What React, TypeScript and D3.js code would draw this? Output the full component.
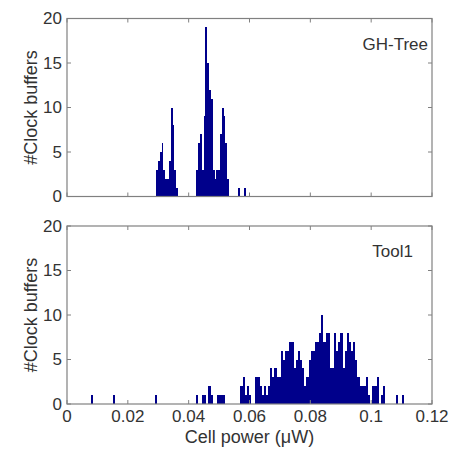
import React from "react";
import * as d3 from "d3";

// ---------- data ----------
const xTicks = [0, 0.02, 0.04, 0.06, 0.08, 0.1, 0.12];
const xTickLabels = ["0", "0.02", "0.04", "0.06", "0.08", "0.1", "0.12"];
const yTicks = [0, 5, 10, 15, 20];
const yTickLabels = ["0", "5", "10", "15", "20"];

const ghTreeLabel = "GH-Tree";
const ghTreeStart = 0.0293;
const ghTreeBinWidth = 0.0006;
const ghTreeCounts = [
  3, 4, 5, 6, 3, 2, 2, 4, 10, 8, 3, 1,
  0, 0, 0, 0, 0, 0, 0, 0, 0, 0,
  3, 6, 7, 3, 9, 19, 15, 12, 11, 3, 2, 3, 3, 7, 10, 9, 6, 2,
  0, 0, 0, 0, 0, 1, 0, 0, 1,
];

const tool1Label = "Tool1";
const tool1Start = 0.008;
const tool1BinWidth = 0.0007;
const tool1Counts = [
  1, 0, 0, 0, 0, 0, 0, 0, 0, 0,
  1, 0, 0, 0, 0, 0, 0, 0, 0, 0,
  0, 0, 0, 0, 0, 0, 0, 0, 0, 0,
  1, 0, 0, 0, 0, 0, 0, 0, 0, 0,
  0, 0, 0, 0, 0, 0, 0, 0, 0, 1,
  0, 0, 1, 1, 0, 2, 1, 0, 0, 1,
  1, 1, 1, 0, 0, 0, 0, 0, 0, 0,
  2, 3, 1, 2, 1, 0, 0, 3, 3, 2,
  1, 2, 1, 2, 4, 3, 4, 3, 3, 6,
  5, 6, 6, 7, 7, 4, 5, 6, 5, 4,
  2, 3, 5, 6, 6, 7, 7, 8, 10, 7,
  8, 8, 4, 4, 8, 6, 7, 8, 4, 6,
  8, 7, 6, 7, 5, 3, 2, 2, 2, 3,
  1, 0, 2, 2, 3, 0, 1, 2, 0, 0,
  0, 0, 0, 1, 0, 0, 1,
];

const yAxisTitle = "#Clock buffers";
const xAxisTitle = "Cell power (\u03bcW)";

// ---------- layout ----------
const W = 450;
const H = 449;
const left = 67;
const right = 432;
const panels = [
  { top: 18.5, bottom: 196.5, label: ghTreeLabel, start: ghTreeStart, bw: ghTreeBinWidth, counts: ghTreeCounts, showX: false, labelX: 428, labelY: 50 },
  { top: 226, bottom: 404, label: tool1Label, start: tool1Start, bw: tool1BinWidth, counts: tool1Counts, showX: true, labelX: 413, labelY: 257 },
];

const FONT = "'Liberation Sans', Arial, Helvetica, sans-serif";
const AXIS = "#808080";
const TEXT = "#333";
const BAR = "#00008b";

function Panel({ p }: { p: (typeof panels)[number] }) {
  const x = d3.scaleLinear().domain([0, 0.12]).range([left, right]);
  const y = d3.scaleLinear().domain([0, 20]).range([p.bottom, p.top]);
  const tl = 4;
  return (
    <g>
      {p.counts.map((c, i) => {
        if (!c) return null;
        const x0 = x(p.start + i * p.bw);
        const x1 = x(p.start + (i + 1) * p.bw);
        return (
          <rect key={i} x={x0} y={y(c)} width={x1 - x0} height={y(0) - y(c)} fill={BAR} shapeRendering="crispEdges" />
        );
      })}
      <rect x={left} y={p.top} width={right - left} height={p.bottom - p.top} fill="none" stroke={AXIS} strokeWidth={1.2} />
      {xTicks.map((t, i) => (
        <g key={"x" + i}>
          <line x1={x(t)} x2={x(t)} y1={p.bottom} y2={p.bottom - tl} stroke={AXIS} />
          <line x1={x(t)} x2={x(t)} y1={p.top} y2={p.top + tl} stroke={AXIS} />
          {p.showX && (
            <text x={x(t)} y={p.bottom + 18} textAnchor="middle" fontSize={17} fill={TEXT} fontFamily={FONT}>
              {xTickLabels[i]}
            </text>
          )}
        </g>
      ))}
      {yTicks.map((t, i) => (
        <g key={"y" + i}>
          <line x1={left} x2={left + tl} y1={y(t)} y2={y(t)} stroke={AXIS} />
          <line x1={right} x2={right - tl} y1={y(t)} y2={y(t)} stroke={AXIS} />
          <text x={left - 5} y={y(t)} dy="0.35em" textAnchor="end" fontSize={17} fill={TEXT} fontFamily={FONT}>
            {yTickLabels[i]}
          </text>
        </g>
      ))}
      <text x={p.labelX} y={p.labelY} textAnchor="end" fontSize={17} fill={TEXT} fontFamily={FONT}>
        {p.label}
      </text>
      <text
        transform={`translate(37,${(p.top + p.bottom) / 2}) rotate(-90)`}
        textAnchor="middle"
        fontSize={18}
        fill={TEXT}
        fontFamily={FONT}
      >
        {yAxisTitle}
      </text>
    </g>
  );
}

export default function App() {
  return (
    <svg width={W} height={H} style={{ position: "absolute", left: 0, top: 0, background: "#fff" }}>
      <rect x={0} y={0} width={W} height={H} fill="#fff" />
      {panels.map((p, i) => (
        <Panel key={i} p={p} />
      ))}
      <text x={(left + right) / 2} y={443} textAnchor="middle" fontSize={18} fill={TEXT} fontFamily={FONT}>
        {xAxisTitle}
      </text>
    </svg>
  );
}
